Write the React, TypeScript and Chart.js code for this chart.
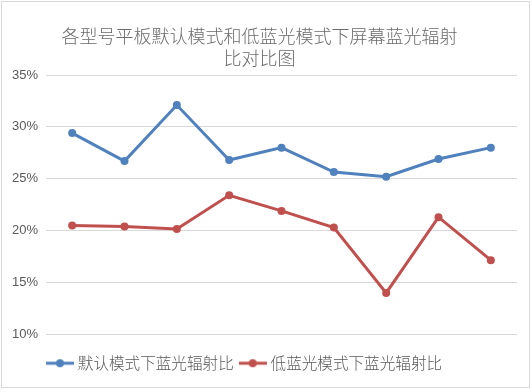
import React, { useEffect, useRef } from "react";
import { Chart, registerables } from "chart.js";

Chart.register(...registerables);

const titleLines = ["各型号平板默认模式和低蓝光模式下屏幕蓝光辐射", "比对比图"];
const categories = ["1", "2", "3", "4", "5", "6", "7", "8", "9"];
const seriesNames = ["默认模式下蓝光辐射比", "低蓝光模式下蓝光辐射比"];
const defaultMode = [29.4, 26.7, 32.1, 26.8, 28.0, 25.65, 25.2, 26.9, 28.0];
const lowBlueMode = [20.5, 20.4, 20.15, 23.4, 21.9, 20.3, 14.0, 21.3, 17.15];
const yTicks = [10, 15, 20, 25, 30, 35];

const BLUE = "#4F81BD";
const RED = "#C0504D";

function makeMarker(color: string): HTMLCanvasElement {
  const c = document.createElement("canvas");
  c.width = 28;
  c.height = 10;
  const ctx = c.getContext("2d")!;
  ctx.strokeStyle = color;
  ctx.lineWidth = 3;
  ctx.beginPath();
  ctx.moveTo(0, 5);
  ctx.lineTo(28, 5);
  ctx.stroke();
  ctx.fillStyle = color;
  ctx.beginPath();
  ctx.arc(14, 5, 4, 0, Math.PI * 2);
  ctx.fill();
  return c;
}

export default function App() {
  const ref = useRef<HTMLCanvasElement>(null);
  useEffect(() => {
    const canvas = ref.current!;
    const markers = [makeMarker(BLUE), makeMarker(RED)];
    const framePlugin = {
      id: "frame",
      beforeDraw(chart: any) {
        const ctx = chart.ctx;
        ctx.save();
        ctx.fillStyle = "#ffffff";
        ctx.fillRect(0, 0, chart.width, chart.height);
        ctx.restore();
      },
      afterDraw(chart: any) {
        const ctx = chart.ctx;
        ctx.save();
        ctx.strokeStyle = "#d9d9d9";
        ctx.lineWidth = 1;
        ctx.strokeRect(1.5, 1.5, 528, 386);
        ctx.restore();
      },
      afterLayout(chart: any) {
        if (chart.legend) {
          chart.legend.left = 41;
        }
        if (chart.titleBlock) {
          chart.titleBlock.left = 2;
          chart.titleBlock.right = 517;
        }
      },
    };
    const chart = new Chart(canvas, {
      type: "line",
      data: {
        labels: categories,
        datasets: [
          {
            label: seriesNames[0],
            data: defaultMode,
            borderColor: BLUE,
            backgroundColor: BLUE,
            borderWidth: 3,
            pointRadius: 4,
            pointBackgroundColor: BLUE,
            pointBorderColor: BLUE,
            pointBorderWidth: 0,
            tension: 0,
          },
          {
            label: seriesNames[1],
            data: lowBlueMode,
            borderColor: RED,
            backgroundColor: RED,
            borderWidth: 3,
            pointRadius: 4,
            pointBackgroundColor: RED,
            pointBorderColor: RED,
            pointBorderWidth: 0,
            tension: 0,
          },
        ],
      },
      options: {
        responsive: false,
        animation: false,
        devicePixelRatio: 1,
        layout: { padding: { top: 0, left: 10, right: 15, bottom: 11 } },
        scales: {
          x: {
            offset: true,
            grid: { display: false },
            border: { display: false },
            ticks: { display: false },
            afterFit(scale: any) {
              scale.height = 12;
            },
          },
          y: {
            min: 10,
            max: 35,
            afterBuildTicks(scale: any) {
              scale.ticks = yTicks.map((v) => ({ value: v }));
            },
            grid: { color: "#d9d9d9", lineWidth: 1, drawTicks: false },
            border: { display: false },
            ticks: {
              padding: 8,
              color: "#595959",
              font: { family: "'Liberation Sans', Arial, sans-serif", size: 13 },
              callback: (v: any) => `${v}%`,
            },
            afterFit(scale: any) {
              scale.width = 36;
            },
          },
        },
        plugins: {
          tooltip: { enabled: false },
          title: {
            display: true,
            text: titleLines,
            color: "#6a6a6a",
            font: { family: "'Noto Sans CJK SC', sans-serif", size: 18, weight: "300", lineHeight: 22 / 18 },
            padding: { top: 25, bottom: 6 },
          },
          legend: {
            position: "bottom",
            align: "start",
            labels: {
              usePointStyle: true,
              pointStyleWidth: 20,
              boxHeight: 10,
              padding: 9,
              color: "#595959",
              font: { family: "'Noto Sans CJK SC', sans-serif", size: 15.6, weight: "300" },
              generateLabels: (chart: any) =>
                chart.data.datasets.map((ds: any, i: number) => ({
                  text: ds.label,
                  fillStyle: ds.borderColor,
                  strokeStyle: ds.borderColor,
                  lineWidth: 0,
                  pointStyle: markers[i],
                  hidden: false,
                  datasetIndex: i,
                  fontColor: "#595959",
                })),
            },
          },
        },
      },
      plugins: [framePlugin],
    });
    return () => chart.destroy();
  }, []);
  return (
    <div style={{ position: "absolute", left: 0, top: 0, width: 532, height: 392 }}>
      <canvas ref={ref} width={532} height={392} style={{ display: "block" }} />
    </div>
  );
}
